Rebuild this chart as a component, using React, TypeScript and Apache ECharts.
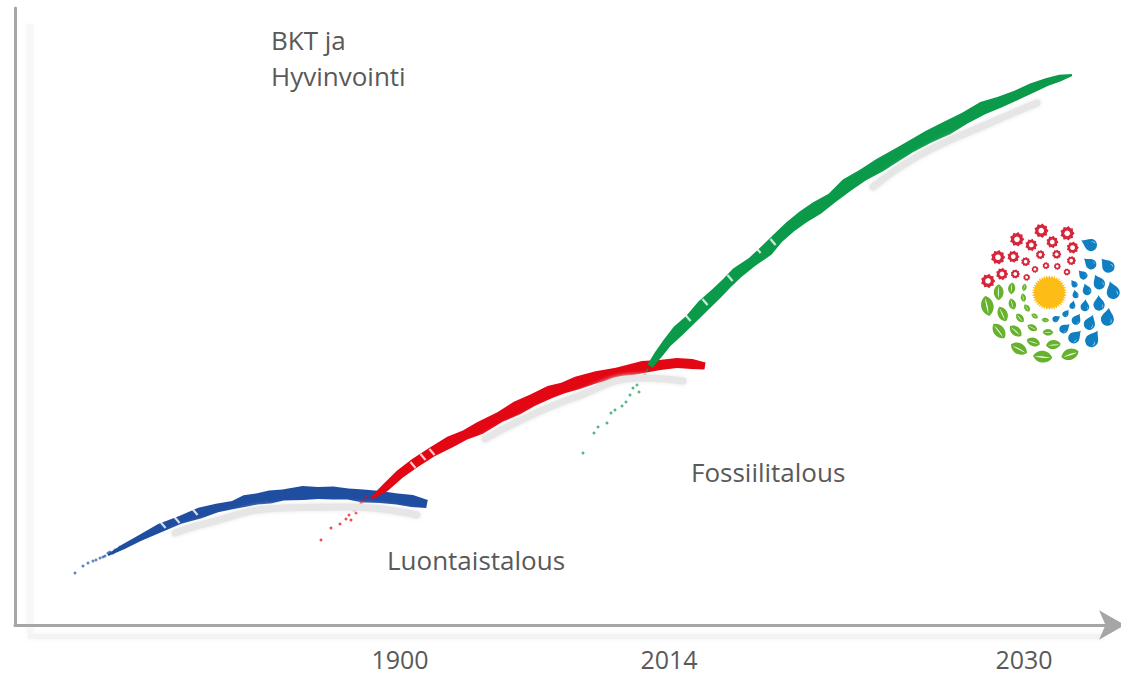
import React, { useEffect, useRef } from "react";
import * as echarts from "echarts";

// Axis labels
const tickLabels = ["1900", "2014", "2030"];
const tickValues = [385, 654, 1009];

// Curves (position units along both axes)
const blueX = [93, 108, 125, 145, 165, 185, 202, 218, 230, 242, 255, 268, 288, 303, 318, 333, 348, 365, 382, 397, 412];
const blueY = [70, 78, 87, 97, 105, 112, 117, 120, 124, 126, 128, 130, 132, 132, 132, 131, 129, 128, 126, 124, 121];
const redX = [357, 370, 385, 400, 417, 435, 450, 465, 485, 502, 518, 535, 548, 562, 582, 602, 628, 645, 662, 677, 690];
const redY = [127, 137, 151, 162, 173, 183, 190, 197, 208, 217, 225, 233, 237, 242, 248, 252, 258, 260, 262, 261, 259];
const greenX = [635, 643, 652, 663, 675, 688, 702, 712, 722, 737, 752, 763, 775, 788, 802, 817, 832, 848, 865, 880, 895, 913, 932, 950, 968, 985, 1002, 1017, 1032, 1045, 1057];
const greenY = [259, 270, 282, 294, 305, 319, 332, 342, 352, 363, 375, 387, 398, 408, 417, 427, 440, 450, 460, 469, 478, 488, 497, 507, 517, 523, 530, 537, 543, 547, 550];

// Faded starts of the curves
const blueSpeckX = [60, 68, 73, 78, 81, 85, 88, 90, 93, 95, 98, 100, 102, 105];
const blueSpeckY = [52, 59, 62, 64, 65, 67, 68, 69, 72, 73, 72, 75, 75, 78];
const redSpeckX = [306, 316, 325, 331, 334, 339, 343, 346, 348, 352, 341, 336];
const redSpeckY = [85, 97, 101, 106, 110, 115, 119, 122, 124, 128, 112, 105];
const greenSpeckX = [568, 579, 583, 592, 596, 600, 607, 611, 615, 618, 622, 627, 630, 624, 632];
const greenSpeckY = [172, 192, 198, 202, 212, 215, 219, 223, 230, 237, 240, 247, 250, 233, 255];

// Soft shadows beneath the curves
const blueShadowX = [160, 185, 268, 335, 402];
const blueShadowY = [92, 100, 117, 118, 110];
const redShadowX = [470, 500, 558, 628, 668];
const redShadowY = [186, 202, 227, 247, 244];
const greenShadowX = [858, 905, 975, 1022];
const greenShadowY = [438, 470, 502, 522];

// Worn gaps in the brush strokes
const fleckX = [148, 162, 180, 398, 408, 417, 673, 690, 715, 743, 758];
const fleckY = [100, 105, 113, 160, 168, 173, 307, 323, 347, 375, 383];

const annotations = ["BKT ja\nHyvinvointi", "Luontaistalous", "Fossiilitalous"];

// Brush widths
const blueW = [2, 5, 6, 9, 8, 11, 9, 8, 12, 11, 13, 11, 14, 12, 13, 11, 13, 12, 11, 12, 8];
const redW = [3, 8, 9, 10, 10, 12, 10, 13, 11, 14, 12, 13, 11, 13, 12, 11, 12, 10, 10, 10, 7];
const greenW = [6, 8, 9, 12, 11, 13, 12, 11, 12, 10, 13, 11, 12, 13, 14, 11, 14, 12, 14, 13, 12, 13, 14, 12, 13, 11, 10, 10, 8, 7, 2];

// Logo marks: x, y, size
const gears = [[84, 213, 20], [126, 192, 17], [166, 192, 13], [200, 202, 10], [114, 142, 20], [160, 140, 17], [197, 155, 13], [225, 178, 10], [171, 88, 20], [214, 105, 17], [241, 134, 13], [258, 167, 10], [244, 62, 20], [277, 96, 17], [290, 133, 13], [292, 169, 10], [322, 70, 20], [338, 113, 17], [334, 152, 13], [321, 186, 10]];
const drops = [[388, 103, 14], [390, 160, 12], [442, 166, 14], [368, 194, 9], [342, 221, 7], [416, 217, 13], [458, 242, 15], [380, 239, 10], [346, 253, 7], [417, 280, 13], [375, 287, 10], [338, 285, 7], [443, 322, 15], [390, 338, 13], [350, 328, 10], [318, 310, 7], [289, 326, 7], [314, 355, 10], [345, 380, 13], [398, 387, 15]];
const leaves = [[82, 288, 19], [116, 247, 15], [155, 235, 11], [193, 232, 7], [190, 263, 8], [157, 282, 11], [128, 312, 15], [201, 294, 8], [180, 324, 10], [224, 318, 7], [256, 330, 7], [217, 353, 10], [167, 363, 14], [117, 363, 17], [264, 367, 10], [220, 396, 13], [280, 404, 14], [177, 416, 17], [248, 440, 18], [330, 433, 17]];

const toothed = (n: number, ro: number, ri: number) => {
  let d = "";
  for (let i = 0; i < n * 2; i++) {
    const a = (Math.PI * i) / n;
    const r = i % 2 ? ri : ro;
    d += `${i ? "L" : "M"}${(r * Math.cos(a)).toFixed(3)} ${(r * Math.sin(a)).toFixed(3)} `;
  }
  return d + "Z";
};
echarts.graphic.registerShape("gear", echarts.graphic.extendPath(toothed(9, 1, 0.8), {}));
echarts.graphic.registerShape("sunDisc", echarts.graphic.extendPath(toothed(40, 1, 0.84), {}));
echarts.graphic.registerShape("drop", echarts.graphic.extendPath("M0 -1.5 C0.2 -0.9 1 -0.4 1 0.3 A1 1 0 1 1 -1 0.3 C-1 -0.4 -0.2 -0.9 0 -1.5 Z", {}));
echarts.graphic.registerShape("dropLight", echarts.graphic.extendPath("M0.45 0.1 C0.75 0.3 0.75 0.7 0.5 0.9 C0.6 0.6 0.6 0.35 0.45 0.1 Z", {}));
echarts.graphic.registerShape("leaf", echarts.graphic.extendPath("M-1.6 0 C-0.9 -1.3 0.9 -1.3 1.6 0 C0.9 1.3 -0.9 1.3 -1.6 0 Z", {}));
echarts.graphic.registerShape("vein", echarts.graphic.extendPath("M-1.3 0.1 C-0.5 -0.08 0.5 -0.08 1.3 0.1 C0.5 0.18 -0.5 0.18 -1.3 0.1 Z", {}));

const SUN_X = 268;
const SUN_Y = 248;
const polar = (x: number, y: number) => Math.atan2(SUN_Y - y, x - SUN_X);

const logoChildren: any[] = [
  ...gears.flatMap(([x, y, r]) => [
    { type: "gear", x, y, scaleX: r * 1.1, scaleY: r * 1.1, style: { fill: "#d6263c" } },
    { type: "circle", shape: { cx: x, cy: y, r: r * 0.42 }, style: { fill: "#ffffff" } },
  ]),
  ...drops.flatMap(([x, y, r]) => {
    const rotation = polar(x, y) + (15 * Math.PI) / 180;
    const s = r * 1.3;
    return [
      { type: "drop", x, y, rotation, scaleX: s, scaleY: s, style: { fill: "#0f7fc1" } },
      { type: "dropLight", x, y, rotation, scaleX: s, scaleY: s, style: { fill: "#bfe0f2" } },
    ];
  }),
  ...leaves.flatMap(([x, y, r]) => {
    const rotation = polar(x, y) + Math.PI / 2;
    return [
      { type: "leaf", x, y, rotation, scaleX: r, scaleY: r, style: { fill: "#66b22c" } },
      { type: "vein", x, y, rotation, scaleX: r, scaleY: r, style: { fill: "#ffffff" } },
    ];
  }),
  { type: "sunDisc", x: SUN_X, y: SUN_Y, scaleX: 53, scaleY: 53, style: { fill: "#fdbd16" } },
];

const stroke = (name: string, xs: number[], ys: number[], ws: number[], color: string) => ({
  name,
  type: "custom",
  silent: true,
  clip: false,
  encode: { x: 0, y: 1 },
  data: xs.map((x, i) => [x, ys[i]]),
  renderItem: (params: any, api: any) => {
    if (params.dataIndex !== 0) return { type: "group", children: [] };
    const pts = xs.map((x, i) => api.coord([x, ys[i]]));
    const up: number[][] = [];
    const down: number[][] = [];
    pts.forEach((p: number[], i: number) => {
      const a = pts[Math.max(0, i - 1)];
      const b = pts[Math.min(pts.length - 1, i + 1)];
      const dx = b[0] - a[0];
      const dy = b[1] - a[1];
      const len = Math.hypot(dx, dy) || 1;
      const nx = (-dy / len) * (ws[i] / 2);
      const ny = (dx / len) * (ws[i] / 2);
      up.push([p[0] + nx, p[1] + ny]);
      down.push([p[0] - nx, p[1] - ny]);
    });
    return { type: "polygon", shape: { points: [...up, ...down.reverse()] }, style: { fill: color } };
  },
});

const specks = (name: string, xs: number[], ys: number[], color: string) => ({
  name,
  type: "scatter",
  silent: true,
  symbolSize: 3,
  itemStyle: { color, opacity: 0.7 },
  data: xs.map((x, i) => [x, ys[i]]),
});

const shadow = (name: string, xs: number[], ys: number[]) => ({
  name,
  type: "line",
  silent: true,
  showSymbol: false,
  smooth: true,
  lineStyle: { color: "#e6e6e6", width: 7, cap: "round", shadowBlur: 4, shadowColor: "#e6e6e6" },
  data: xs.map((x, i) => [x, ys[i]]),
});

const textStyle = { fill: "#595959", fontFamily: "Open Sans", fontSize: 26 };

export default function App() {
  const ref = useRef<HTMLDivElement>(null);
  useEffect(() => {
    document.body.style.margin = "0";
    const chart = echarts.init(ref.current!, undefined, { renderer: "svg" });
    chart.setOption({
      animation: false,
      backgroundColor: "#ffffff",
      grid: { left: 15, right: 0, top: 8, bottom: 49 },
      xAxis: {
        type: "value",
        min: 0,
        max: 1106,
        splitLine: { show: false },
        axisTick: { show: false },
        axisLine: {
          show: true,
          onZero: false,
          symbol: ["none", "arrow"],
          symbolSize: [22, 26],
          symbolOffset: [0, 4],
          lineStyle: { color: "#a6a6a6", width: 3 },
        },
        axisLabel: {
          customValues: tickValues,
          formatter: (v: number) => tickLabels[tickValues.indexOf(v)] ?? "",
          color: "#595959",
          fontFamily: "Open Sans",
          fontSize: 25,
          margin: 21,
        },
      },
      yAxis: {
        type: "value",
        min: 0,
        max: 617,
        splitLine: { show: false },
        axisTick: { show: false },
        axisLabel: { show: false },
        axisLine: { show: true, onZero: false, lineStyle: { color: "#a6a6a6", width: 3 } },
      },
      graphic: [
        { type: "rect", z: -1, shape: { x: 27, y: 24, width: 6, height: 610 }, style: { fill: "#f7f7f7", shadowBlur: 5, shadowColor: "#f7f7f7" } },
        { type: "rect", z: -1, shape: { x: 28, y: 634, width: 1075, height: 5 }, style: { fill: "#f3f3f3", shadowBlur: 5, shadowColor: "#f3f3f3" } },
        { type: "text", x: 271, y: 22, style: { ...textStyle, text: annotations[0], lineHeight: 36 } },
        { type: "text", x: 387, y: 547, style: { ...textStyle, text: annotations[1] } },
        { type: "text", x: 691, y: 459, style: { ...textStyle, text: annotations[2] } },
        { type: "group", x: 960, y: 210, scaleX: 1 / 3, scaleY: 1 / 3, children: logoChildren },
      ],
      series: [
        shadow("blue shadow", blueShadowX, blueShadowY),
        shadow("red shadow", redShadowX, redShadowY),
        shadow("green shadow", greenShadowX, greenShadowY),
        specks("blue start", blueSpeckX, blueSpeckY, "#1f4ea1"),
        stroke("Luontaistalous", blueX, blueY, blueW, "#1f4ea1"),
        specks("red start", redSpeckX, redSpeckY, "#e30613"),
        stroke("Teollinen", redX, redY, redW, "#e30613"),
        specks("green start", greenSpeckX, greenSpeckY, "#0b9a4a"),
        stroke("Fossiilitalous", greenX, greenY, greenW, "#0b9a4a"),
        {
          name: "flecks",
          type: "scatter",
          silent: true,
          symbol: "rect",
          symbolSize: [2.2, 8],
          symbolRotate: 40,
          itemStyle: { color: "#ffffff" },
          data: fleckX.map((x, i) => [x, fleckY[i]]),
        },
      ],
    });
    return () => chart.dispose();
  }, []);
  return <div ref={ref} style={{ width: 1121, height: 674 }} />;
}
